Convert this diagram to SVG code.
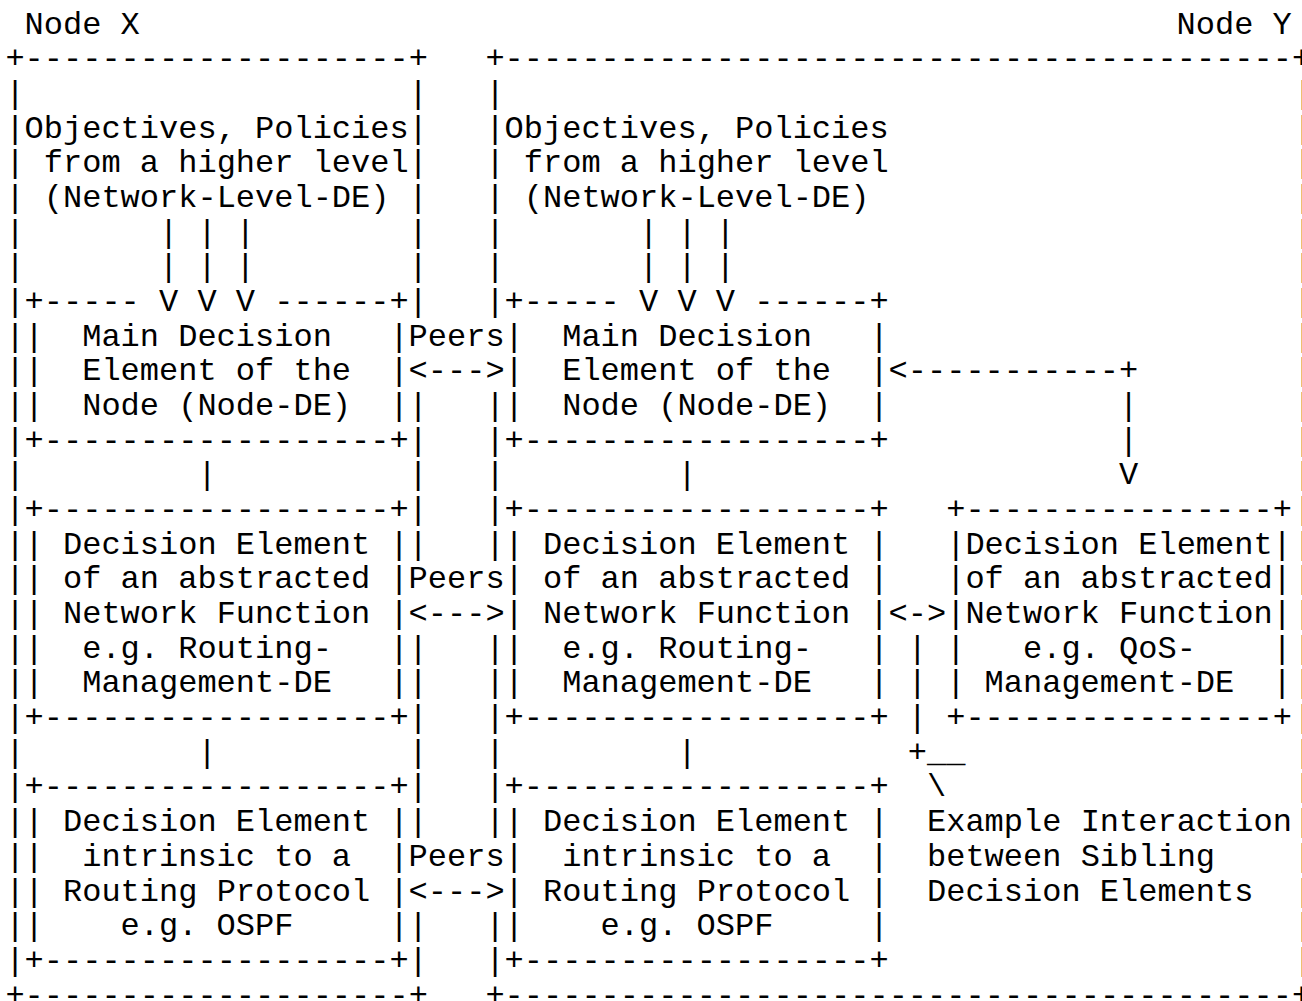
<svg xmlns="http://www.w3.org/2000/svg" width="1302" height="1001" viewBox="0 0 1302 1001" xml:space="preserve">
  <style>
    text { font-family: "Liberation Mono", "Courier New", monospace; font-size: 32px; fill: #000; white-space: pre; }
  </style>
  <rect width="1302" height="1001" fill="#fff"/>

  <!-- Node X: outer frame, title and objectives -->
  <g id="node-x">
    <text x="24.6" y="33.5">Node X</text>
    <text x="5.4" y="68.18">+--------------------+</text>
    <text x="5.4 408.6" y="102.86">||</text>
    <text x="5.4 408.6" y="137.54">||</text>
    <text x="5.4 408.6" y="172.22">||</text>
    <text x="5.4 408.6" y="206.9">||</text>
    <text x="5.4 408.6" y="241.58">||</text>
    <text x="5.4 408.6" y="276.26">||</text>
    <text x="5.4 408.6" y="310.94">||</text>
    <text x="5.4" y="345.62">|</text>
    <text x="5.4" y="380.3">|</text>
    <text x="5.4 408.6" y="414.98">||</text>
    <text x="5.4 408.6" y="449.66">||</text>
    <text x="5.4 408.6" y="484.34">||</text>
    <text x="5.4 408.6" y="519.02">||</text>
    <text x="5.4 408.6" y="553.7">||</text>
    <text x="5.4" y="588.38">|</text>
    <text x="5.4" y="623.06">|</text>
    <text x="5.4 408.6" y="657.74">||</text>
    <text x="5.4 408.6" y="692.42">||</text>
    <text x="5.4 408.6" y="727.1">||</text>
    <text x="5.4 408.6" y="761.78">||</text>
    <text x="5.4 408.6" y="796.46">||</text>
    <text x="5.4 408.6" y="831.14">||</text>
    <text x="5.4" y="865.82">|</text>
    <text x="5.4" y="900.5">|</text>
    <text x="5.4 408.6" y="935.18">||</text>
    <text x="5.4 408.6" y="969.86">||</text>
    <text x="5.4" y="1004.54">+--------------------+</text>
    <g id="node-x-objectives">
      <text x="24.6" y="137.54">Objectives, Policies</text>
      <text x="43.8" y="172.22">from a higher level</text>
      <text x="43.8" y="206.9">(Network-Level-DE)</text>
    </g>
  </g>

  <!-- Node X: main decision element -->
  <g id="node-x-main-de">
    <text x="24.6" y="310.94">+-----</text>
    <text x="274.2" y="310.94">------+</text>
    <text x="24.6 389.4" y="345.62">||</text>
    <text x="24.6 389.4" y="380.3">||</text>
    <text x="24.6 389.4" y="414.98">||</text>
    <text x="82.2" y="345.62">Main Decision</text>
    <text x="82.2" y="380.3">Element of the</text>
    <text x="82.2" y="414.98">Node (Node-DE)</text>
    <text x="24.6" y="449.66">+------------------+</text>
  </g>

  <!-- Node X: network function decision element -->
  <g id="node-x-routing-mgmt-de">
    <text x="24.6" y="519.02">+------------------+</text>
    <text x="24.6 389.4" y="553.7">||</text>
    <text x="24.6 389.4" y="588.38">||</text>
    <text x="24.6 389.4" y="623.06">||</text>
    <text x="24.6 389.4" y="657.74">||</text>
    <text x="24.6 389.4" y="692.42">||</text>
    <text x="63" y="553.7">Decision Element</text>
    <text x="63" y="588.38">of an abstracted</text>
    <text x="63" y="623.06">Network Function</text>
    <text x="82.2" y="657.74">e.g. Routing-</text>
    <text x="82.2" y="692.42">Management-DE</text>
    <text x="24.6" y="727.1">+------------------+</text>
  </g>

  <!-- Node X: routing protocol decision element -->
  <g id="node-x-protocol-de">
    <text x="24.6" y="796.46">+------------------+</text>
    <text x="24.6 389.4" y="831.14">||</text>
    <text x="24.6 389.4" y="865.82">||</text>
    <text x="24.6 389.4" y="900.5">||</text>
    <text x="24.6 389.4" y="935.18">||</text>
    <text x="63" y="831.14">Decision Element</text>
    <text x="82.2" y="865.82">intrinsic to a</text>
    <text x="63" y="900.5">Routing Protocol</text>
    <text x="120.6" y="935.18">e.g. OSPF</text>
    <text x="24.6" y="969.86">+------------------+</text>
  </g>

  <!-- Node Y: outer frame, title and objectives (right edge runs past the canvas) -->
  <g id="node-y">
    <text x="1176.6" y="33.5">Node Y</text>
    <text x="485.4" y="68.18">+-----------------------------------------+</text>
    <text x="485.4 1293.4" y="102.86">||</text>
    <text x="485.4 1293.4" y="137.54">||</text>
    <text x="485.4 1293.4" y="172.22">||</text>
    <text x="485.4 1293.4" y="206.9">||</text>
    <text x="485.4 1293.4" y="241.58">||</text>
    <text x="485.4 1293.4" y="276.26">||</text>
    <text x="485.4 1293.4" y="310.94">||</text>
    <text x="1293.4" y="345.62">|</text>
    <text x="1293.4" y="380.3">|</text>
    <text x="485.4 1293.4" y="414.98">||</text>
    <text x="485.4 1293.4" y="449.66">||</text>
    <text x="485.4 1293.4" y="484.34">||</text>
    <text x="485.4 1293.4" y="519.02">||</text>
    <text x="485.4 1293.4" y="553.7">||</text>
    <text x="1293.4" y="588.38">|</text>
    <text x="1293.4" y="623.06">|</text>
    <text x="485.4 1293.4" y="657.74">||</text>
    <text x="485.4 1293.4" y="692.42">||</text>
    <text x="485.4 1293.4" y="727.1">||</text>
    <text x="485.4 1293.4" y="761.78">||</text>
    <text x="485.4 1293.4" y="796.46">||</text>
    <text x="485.4 1293.4" y="831.14">||</text>
    <text x="1293.4" y="865.82">|</text>
    <text x="1293.4" y="900.5">|</text>
    <text x="485.4 1293.4" y="935.18">||</text>
    <text x="485.4 1293.4" y="969.86">||</text>
    <text x="485.4" y="1004.54">+-----------------------------------------+</text>
    <g id="node-y-objectives">
      <text x="504.6" y="137.54">Objectives, Policies</text>
      <text x="523.8" y="172.22">from a higher level</text>
      <text x="523.8" y="206.9">(Network-Level-DE)</text>
    </g>
  </g>

  <!-- Node Y: main decision element -->
  <g id="node-y-main-de">
    <text x="504.6" y="310.94">+-----</text>
    <text x="754.2" y="310.94">------+</text>
    <text x="504.6 869.4" y="345.62">||</text>
    <text x="504.6 869.4" y="380.3">||</text>
    <text x="504.6 869.4" y="414.98">||</text>
    <text x="562.2" y="345.62">Main Decision</text>
    <text x="562.2" y="380.3">Element of the</text>
    <text x="562.2" y="414.98">Node (Node-DE)</text>
    <text x="504.6" y="449.66">+------------------+</text>
  </g>

  <!-- Node Y: network function decision element -->
  <g id="node-y-routing-mgmt-de">
    <text x="504.6" y="519.02">+------------------+</text>
    <text x="504.6 869.4" y="553.7">||</text>
    <text x="504.6 869.4" y="588.38">||</text>
    <text x="504.6 869.4" y="623.06">||</text>
    <text x="504.6 869.4" y="657.74">||</text>
    <text x="504.6 869.4" y="692.42">||</text>
    <text x="543" y="553.7">Decision Element</text>
    <text x="543" y="588.38">of an abstracted</text>
    <text x="543" y="623.06">Network Function</text>
    <text x="562.2" y="657.74">e.g. Routing-</text>
    <text x="562.2" y="692.42">Management-DE</text>
    <text x="504.6" y="727.1">+------------------+</text>
  </g>

  <!-- Node Y: routing protocol decision element -->
  <g id="node-y-protocol-de">
    <text x="504.6" y="796.46">+------------------+</text>
    <text x="504.6 869.4" y="831.14">||</text>
    <text x="504.6 869.4" y="865.82">||</text>
    <text x="504.6 869.4" y="900.5">||</text>
    <text x="504.6 869.4" y="935.18">||</text>
    <text x="543" y="831.14">Decision Element</text>
    <text x="562.2" y="865.82">intrinsic to a</text>
    <text x="543" y="900.5">Routing Protocol</text>
    <text x="600.6" y="935.18">e.g. OSPF</text>
    <text x="504.6" y="969.86">+------------------+</text>
  </g>

  <!-- Node Y: sibling QoS management decision element -->
  <g id="node-y-qos-mgmt-de">
    <text x="946.2" y="519.02">+----------------+</text>
    <text x="946.2 1272.6" y="553.7">||</text>
    <text x="946.2 1272.6" y="588.38">||</text>
    <text x="946.2 1272.6" y="623.06">||</text>
    <text x="946.2 1272.6" y="657.74">||</text>
    <text x="946.2 1272.6" y="692.42">||</text>
    <text x="965.4" y="553.7">Decision Element</text>
    <text x="965.4" y="588.38">of an abstracted</text>
    <text x="965.4" y="623.06">Network Function</text>
    <text x="1023" y="657.74">e.g. QoS-</text>
    <text x="984.6" y="692.42">Management-DE</text>
    <text x="946.2" y="727.1">+----------------+</text>
  </g>

  <!-- Annotation for the sibling interaction -->
  <g id="note-sibling-interaction">
    <text x="927" y="831.14">Example Interaction</text>
    <text x="927" y="865.82">between Sibling</text>
    <text x="927" y="900.5">Decision Elements</text>
  </g>

  <!-- Connectors: policy inputs, peer links, internal links -->
  <g id="connectors">
    <!-- objectives down into the main decision elements -->
    <text x="159" y="241.58">| | |</text>
    <text x="159" y="276.26">| | |</text>
    <text x="159" y="310.94">V V V</text>
    <text x="639" y="241.58">| | |</text>
    <text x="639" y="276.26">| | |</text>
    <text x="639" y="310.94">V V V</text>

    <!-- peer links between Node X and Node Y -->
    <text x="408.6" y="345.62">Peers</text>
    <text x="408.6" y="380.3">&lt;---&gt;</text>
    <text x="408.6" y="588.38">Peers</text>
    <text x="408.6" y="623.06">&lt;---&gt;</text>
    <text x="408.6" y="865.82">Peers</text>
    <text x="408.6" y="900.5">&lt;---&gt;</text>

    <!-- hierarchy links inside each node -->
    <text x="197.4" y="484.34">|</text>
    <text x="197.4" y="761.78">|</text>
    <text x="677.4" y="484.34">|</text>
    <text x="677.4" y="761.78">|</text>

    <!-- main DE to QoS DE -->
    <text x="888.6" y="380.3">&lt;-----------+</text>
    <text x="1119" y="414.98">|</text>
    <text x="1119" y="449.66">|</text>
    <text x="1119" y="484.34">V</text>

    <!-- sibling interaction -->
    <text x="888.6" y="623.06">&lt;-&gt;</text>
    <text x="907.8" y="657.74">|</text>
    <text x="907.8" y="692.42">|</text>
    <text x="907.8" y="727.1">|</text>
    <text x="907.8" y="761.78">+__</text>
    <text x="927" y="796.46">\</text>
  </g>
</svg>
